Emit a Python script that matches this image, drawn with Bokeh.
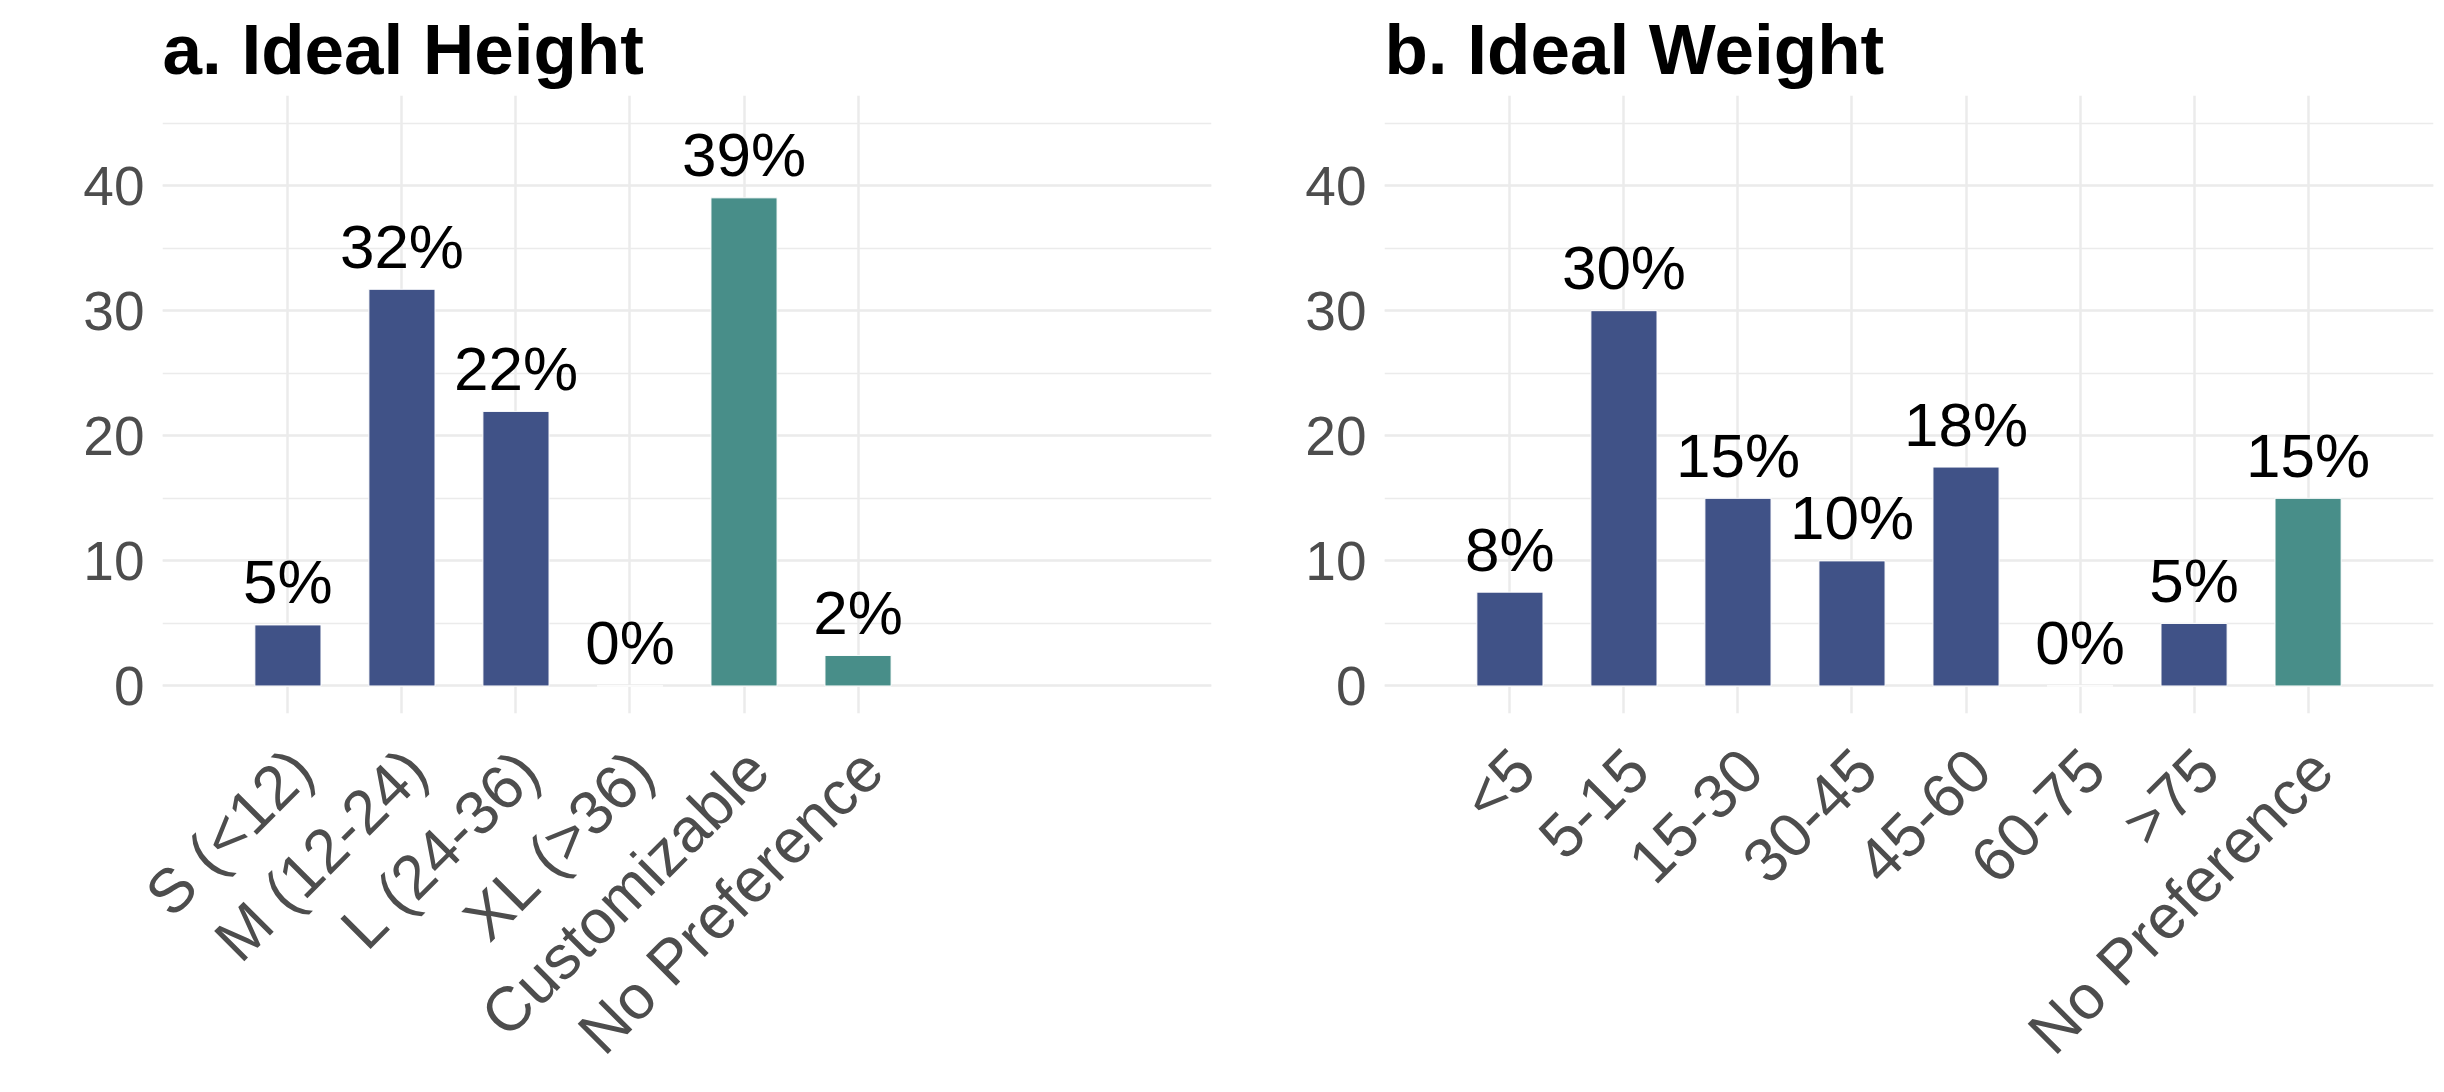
import math
from bokeh.plotting import figure
from bokeh.layouts import row
from bokeh.models import (ColumnDataSource, Range1d, FixedTicker,
                          SingleIntervalTicker, LinearAxis)
from bokeh.core.properties import value
from bokeh.embed import file_html
from bokeh.resources import INLINE

# ---- data ----
height_cats = ["S (<12)", "M (12-24)", "L (24-36)", "XL (>36)", "Customizable", "No Preference"]
height_vals = [4.88, 31.71, 21.95, 0.0, 39.02, 2.44]
height_labels = ["5%", "32%", "22%", "0%", "39%", "2%"]
height_group = ["size", "size", "size", "size", "other", "other"]

weight_cats = ["<5", "5-15", "15-30", "30-45", "45-60", "60-75", ">75", "No Preference"]
weight_vals = [7.5, 30.0, 15.0, 10.0, 17.5, 0.0, 5.0, 15.0]
weight_labels = ["8%", "30%", "15%", "10%", "18%", "0%", "5%", "15%"]
weight_group = ["size", "size", "size", "size", "size", "size", "size", "other"]

BLUE = "#405287"
TEAL = "#488E89"
FONT = "Liberation Sans"

X_START, X_END = -0.1, 9.1
LABEL_SHIFT = 0.12  # shift of rotated tick labels (in category units)


def make_panel(title, cats, vals, labels, groups, border_left, border_right):
    xs = list(range(1, len(cats) + 1))
    colors = [BLUE if g == "size" else TEAL for g in groups]
    src = ColumnDataSource(dict(x=xs, top=vals, label=labels, color=colors))
    p = figure(
        frame_width=1049, frame_height=618,
        x_range=Range1d(X_START, X_END), y_range=Range1d(-2.2, 47.2),
        output_backend="svg", toolbar_location=None,
        min_border_left=border_left, min_border_right=border_right,
        min_border_top=90, min_border_bottom=360,
        title=title,
    )
    p.outline_line_color = None
    p.background_fill_color = "white"
    p.border_fill_color = "white"

    p.vbar(x="x", top="top", bottom=0, width=0.58, fill_color="color",
           line_color="white", line_width=1, source=src)
    p.text(x="x", y="top", text="label", text_align="center",
           text_baseline="alphabetic", y_offset=-43,
           text_font=value(FONT), text_font_size="62px", text_color="black",
           source=src)

    # title
    p.title.text_font = FONT
    p.title.text_font_size = "71px"
    p.title.text_font_style = "bold"
    p.title.text_color = "black"
    p.title.align = "left"
    p.title.standoff = 14

    # x axis: grid from the main axis, labels from a slightly shifted axis
    p.xaxis.visible = False
    p.xgrid.ticker = FixedTicker(ticks=xs)
    p.extra_x_ranges = {"lab": Range1d(X_START - LABEL_SHIFT, X_END - LABEL_SHIFT)}
    ax = LinearAxis(x_range_name="lab", ticker=FixedTicker(ticks=xs))
    ax.major_label_overrides = {i: c for i, c in zip(xs, cats)}
    ax.major_label_orientation = math.pi / 4
    ax.major_label_text_font = FONT
    ax.major_label_text_font_size = "62px"
    ax.major_label_text_color = "#4D4D4D"
    ax.major_label_standoff = 40
    ax.axis_line_color = None
    ax.major_tick_line_color = None
    ax.minor_tick_line_color = None
    p.add_layout(ax, "below")

    # y axis
    p.yaxis.ticker = SingleIntervalTicker(interval=10, num_minor_ticks=2)
    p.yaxis.major_label_text_font = FONT
    p.yaxis.major_label_text_font_size = "55px"
    p.yaxis.major_label_text_color = "#4D4D4D"
    p.yaxis.major_label_standoff = 12
    p.yaxis.axis_line_color = None
    p.yaxis.major_tick_line_color = None
    p.yaxis.minor_tick_line_color = None

    # grids
    p.xgrid.grid_line_color = "#EBEBEB"
    p.xgrid.grid_line_width = 2.5
    p.ygrid.grid_line_color = "#EBEBEB"
    p.ygrid.grid_line_width = 2.5
    p.ygrid.minor_grid_line_color = "#EBEBEB"
    p.ygrid.minor_grid_line_width = 1.3
    return p


p1 = make_panel("a. Ideal Height", height_cats, height_vals, height_labels, height_group, 162, 3)
p2 = make_panel("b. Ideal Weight", weight_cats, weight_vals, weight_labels, weight_group, 170, 3)

layout = row(p1, p2)
open("out.html", "w").write(file_html(layout, INLINE))
